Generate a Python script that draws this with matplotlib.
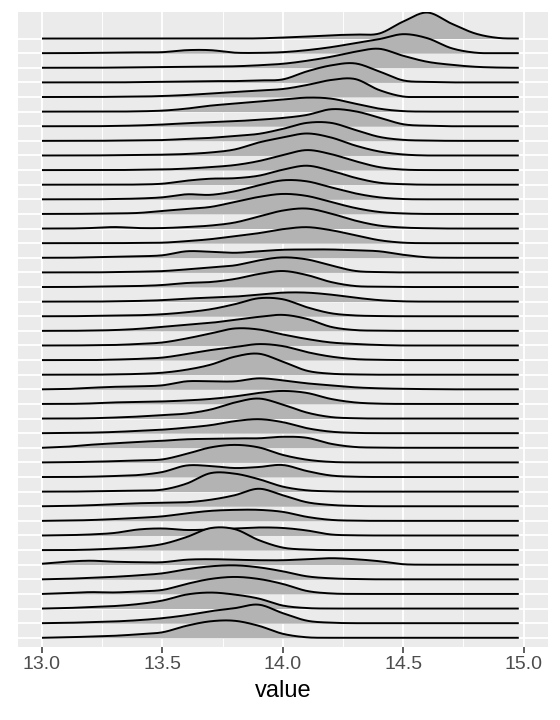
import numpy as np
import matplotlib.pyplot as plt

plt.rcParams['font.family'] = ['Liberation Sans', 'DejaVu Sans']

# x positions where ridge heights were read (value axis)
grid = [13.0, 13.1, 13.2, 13.3, 13.4, 13.5, 13.6, 13.7, 13.8, 13.9, 14.0,
        14.1, 14.2, 14.3, 14.4, 14.5, 14.6, 14.7, 14.8, 14.9, 14.98]

# ridge heights, top ridge first (units: approx. pixels of the original)
ridges = [
    [0, 0, 0, 0, 0, 0, 0, 0, 0, 0.2, 1, 2, 3.3, 4, 5, 17, 26, 15, 5, 0.5, 0],
    [0, 0, 0.3, 0.5, 0.8, 1, 3, 3, 0.5, 0.3, 1, 3, 6, 10, 14, 19, 15, 5, 0.5, 0, 0],
    [0, 0, 0, 0.2, 0.4, 0.6, 0.9, 1.2, 1.5, 2.5, 4, 7, 11, 16, 19, 12, 6, 3, 1, 0.2, 0],
    [0, 0, 0, 0, 0.3, 0.6, 1, 1.3, 1.3, 2, 3, 11, 17, 19, 11, 2, 0.5, 0, 0, 0, 0],
    [0, 0, 0, 0.2, 0.4, 1, 2, 3.5, 5, 6.5, 8, 12, 17, 18, 7, 0.5, 0, 0, 0, 0, 0],
    [0, 0, 0, 0, 0.3, 1, 3, 6, 8, 10, 12, 14, 13, 8, 3, 0.5, 0, 0, 0, 0, 0],
    [0, 0, 0, 0.3, 0.8, 1.7, 3, 4, 5, 6.5, 8.3, 11.3, 17, 15, 8.7, 2, 0.5, 0, 0, 0, 0],
    [0, 0, 0, 0.2, 0.4, 0.8, 2, 3, 5, 7, 12, 18, 18, 11, 4, 1, 0.3, 0, 0, 0, 0],
    [0, 0, 0, 0.3, 0.5, 0.8, 1.5, 3, 6, 13, 18, 22, 18, 10, 4, 1, 0, 0, 0, 0, 0],
    [0, 0, 0, 0, 0.3, 0.6, 1.5, 3, 5, 9, 15, 20, 16, 9, 3, 0.5, 0, 0, 0, 0, 0],
    [0, 0, 0, 0, 0.2, 1, 4, 6, 6.5, 9, 15, 19, 14, 7, 2, 0.5, 0, 0, 0, 0, 0],
    [0, 0, 0, 0.3, 0.8, 2, 5, 4.5, 8, 14, 19, 18, 12, 6, 2, 0.3, 0, 0, 0, 0, 0],
    [0, 0, 0.2, 0.5, 1, 3, 5, 7, 12, 17, 20, 18, 12, 6, 2, 0.5, 0, 0, 0, 0, 0],
    [0, 0, 0.5, 1.5, 0.5, 0.5, 1.5, 3, 6, 12, 18, 20, 15, 8, 3, 1, 0.3, 0, 0, 0, 0],
    [0, 0, 0, 0, 0.3, 0.5, 2, 4, 7, 10, 14, 16, 13, 8, 3, 0.5, 0, 0, 0, 0, 0],
    [0, 0, 0.5, 1, 1.5, 2.5, 6.5, 6, 5, 6.5, 8, 8.3, 8.3, 7.5, 6.5, 3, 0.5, 0, 0, 0, 0],
    [0, 0, 0, 0.3, 0.7, 1.3, 3, 5, 7, 12, 15, 13, 7, 1.5, 0.3, 0, 0, 0, 0, 0, 0],
    [0, 0, 0.3, 0.6, 1, 2, 4, 5, 8, 13, 16, 12, 5, 1, 0.3, 0, 0, 0, 0, 0, 0],
    [0, 0, 0, 0.3, 0.7, 1.5, 3, 4, 5, 7, 9, 9, 7, 4, 1.5, 0.3, 0, 0, 0, 0, 0],
    [0, 0, 0.3, 0.6, 1, 2, 4, 7, 12, 18, 17, 9, 3, 0.8, 0.2, 0, 0, 0, 0, 0, 0],
    [0, 0, 0.3, 0.8, 2, 4, 6, 8, 11, 14, 16, 12, 4, 0.8, 0.2, 0, 0, 0, 0, 0, 0],
    [0, 0, 0.2, 0.5, 1.5, 3, 7, 12, 17, 16, 11, 6.5, 3, 1.5, 0.5, 0, 0, 0, 0, 0, 0],
    [0, 0, 0, 0.5, 1.2, 2.5, 6, 10, 13, 16, 14, 8, 3.5, 1, 0.3, 0, 0, 0, 0, 0, 0],
    [0, 0, 0, 0.3, 0.8, 2, 5, 10, 18, 21, 13, 4, 1, 0.3, 0, 0, 0, 0, 0, 0, 0],
    [0, 0.3, 1.5, 2.5, 3, 4, 8, 8, 8, 11, 9, 6, 4, 2, 1, 0.5, 0.2, 0, 0, 0, 0],
    [0, 0, 0.5, 1.5, 2, 2.5, 3.5, 5, 7.5, 11, 13, 11, 5, 1.5, 0.3, 0, 0, 0, 0, 0, 0],
    [0, 0, 0.3, 1, 2, 3.5, 5, 9, 16, 20, 14, 6, 1.5, 0.3, 0, 0, 0, 0, 0, 0, 0],
    [0, 0.2, 0.5, 1.2, 2.3, 3.5, 5.5, 8, 12, 14, 11, 5, 1.5, 0.3, 0, 0, 0, 0, 0, 0, 0],
    [0, 1, 3, 4.5, 6, 7, 8.5, 9, 9.5, 9.5, 11, 10, 4, 0.8, 0.2, 0, 0, 0, 0, 0, 0],
    [0, 0.2, 0.6, 1.2, 2, 3, 8.5, 15, 17.5, 15, 7.5, 2.7, 0.5, 0, 0, 0, 0, 0, 0, 0, 0],
    [0, 0, 0.3, 1, 2, 5, 11.5, 11, 9, 10, 12, 6, 1.5, 0.3, 0, 0, 0, 0, 0, 0, 0],
    [0, 0, 0.3, 0.6, 1, 2, 8, 18.5, 18, 12.5, 5, 1.3, 0.3, 0, 0, 0, 0, 0, 0, 0, 0],
    [0, 0.3, 1, 2, 3, 3.5, 4, 6.5, 11, 17.5, 11, 4, 1.3, 0.3, 0, 0, 0, 0, 0, 0, 0],
    [0, 0.3, 0.8, 1.8, 3, 4.5, 7.5, 10, 11, 11, 9, 4, 1, 0.2, 0, 0, 0, 0, 0, 0, 0],
    [0, 0.3, 1, 2.5, 6, 7, 5.5, 6, 7, 8, 7.5, 5, 1, 0.2, 0, 0, 0, 0, 0, 0, 0],
    [0, 0, 0.5, 1.5, 3, 6, 13, 22, 21, 10, 2.5, 0.5, 0, 0, 0, 0, 0, 0, 0, 0, 0],
    [1, 3, 4, 3, 2.5, 2.5, 5, 5.5, 5, 4.5, 4.5, 5.5, 6.5, 5.5, 3.5, 0.5, 0, 0, 0, 0, 0],
    [0, 0.5, 1.5, 2.5, 4, 6, 10, 13, 14, 12, 8, 3, 1, 0.3, 0, 0, 0, 0, 0, 0, 0],
    [0, 0.8, 1.8, 1.5, 2.5, 4, 10, 15, 17, 15, 10, 3, 0.5, 0, 0, 0, 0, 0, 0, 0, 0],
    [0, 0.5, 1.5, 2.5, 4.5, 8, 14, 16, 14, 10, 3, 0.5, 0, 0, 0, 0, 0, 0, 0, 0, 0],
    [0, 0.3, 1, 1.7, 3, 5, 8, 12, 15, 18.5, 10, 2.5, 0.5, 0, 0, 0, 0, 0, 0, 0, 0],
    [0, 0.5, 1.2, 2, 3.5, 5.5, 12, 16.5, 17, 12, 4, 0.5, 0, 0, 0, 0, 0, 0, 0, 0, 0],
]

xticks = [13.0, 13.5, 14.0, 14.5, 15.0]
xtick_labels = ['13.0', '13.5', '14.0', '14.5', '15.0']
row_px = 14.62   # one ridge row in the original, used to scale heights


def smooth(xp, yp, xs):
    # cubic hermite (catmull-rom style) through the read points
    xp = np.asarray(xp, float)
    yp = np.asarray(yp, float)
    m = np.gradient(yp, xp)
    k = np.clip(np.searchsorted(xp, xs) - 1, 0, len(xp) - 2)
    h = xp[k + 1] - xp[k]
    t = (xs - xp[k]) / h
    h00 = 2 * t**3 - 3 * t**2 + 1
    h10 = t**3 - 2 * t**2 + t
    h01 = -2 * t**3 + 3 * t**2
    h11 = t**3 - t**2
    ys = h00 * yp[k] + h10 * h * m[k] + h01 * yp[k + 1] + h11 * h * m[k + 1]
    return np.clip(ys, 0, None)


fig, ax = plt.subplots(figsize=(5.6, 7.2), dpi=100)
fig.subplots_adjust(left=0.032, right=0.978, bottom=0.102, top=0.983)
ax.set_facecolor('#EBEBEB')
for s in ax.spines.values():
    s.set_visible(False)

n = len(ridges)
xs = np.linspace(grid[0], grid[-1], 600)
for i, h in enumerate(ridges):
    base = n - 1 - i
    y = base + smooth(grid, h, xs) / row_px
    ax.fill_between(xs, base, y, color='#B3B3B3', lw=0, zorder=2 + i)
    ax.plot(xs, y, color='black', lw=1.4, zorder=2 + i, solid_capstyle='butt')

ax.set_xlim(12.9, 15.1)
ax.set_ylim(-0.6, n - 1 + 1.8)
ax.set_xticks(xticks)
ax.set_xticklabels(xtick_labels)
ax.set_xticks([13.25, 13.75, 14.25, 14.75], minor=True)
ax.set_yticks(range(n))
ax.set_yticklabels([])
ax.tick_params(axis='y', which='both', length=0)
ax.tick_params(axis='x', which='minor', length=0)
ax.tick_params(axis='x', which='major', length=4, width=1.1, color='#333333',
               labelsize=14, labelcolor='#4D4D4D', pad=3)
ax.grid(which='major', color='white', lw=1.3)
ax.grid(which='minor', axis='x', color='white', lw=0.65)
ax.set_axisbelow(True)
ax.set_xlabel('value', fontsize=17, labelpad=5)

plt.savefig('out.png', dpi=100)
